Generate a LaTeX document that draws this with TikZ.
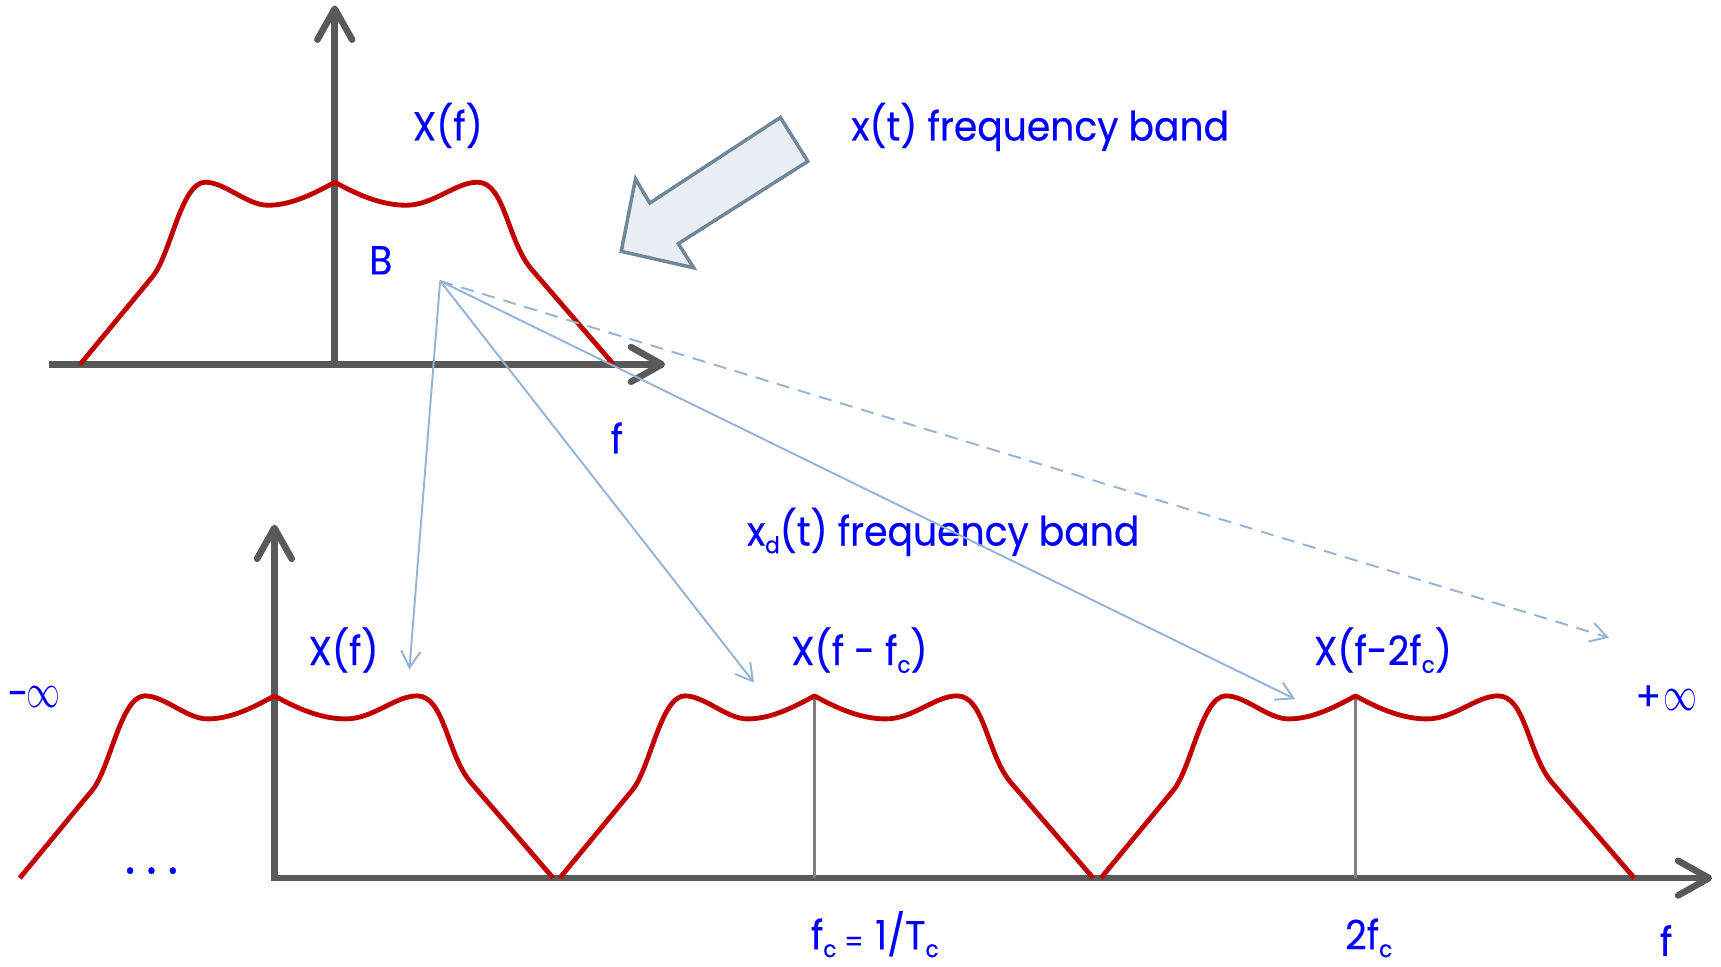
\documentclass[tikz,border=0pt]{standalone}
\usepackage{fontspec}
\setmainfont{Poppins}[FakeStretch=0.93,FakeBold=0.4]
\usetikzlibrary{arrows.meta}
\definecolor{axisgray}{HTML}{595959}
\definecolor{sigred}{HTML}{C00000}
\definecolor{lblue}{HTML}{0000FF}
\definecolor{connblue}{HTML}{95B3D7}
\definecolor{bafill}{HTML}{E9EEF5}
\definecolor{badraw}{HTML}{6F8799}
\definecolor{tickgray}{HTML}{808080}
\newcommand\lblfont{\fontsize{10.5}{12}\selectfont}
\newcommand\subsc[1]{\raisebox{-2pt}{\fontsize{6}{7}\selectfont #1}}
\newcommand\infsym{\scalebox{0.8}[1.15]{$\infty$}}
\newcommand\bigdot{{\fontsize{14}{14}\selectfont.}}
\begin{document}
\begin{tikzpicture}[x=0.01cm, y=-0.01cm,
  axis/.style={draw=axisgray, line width=1.7pt, -{Straight Barb[length=8pt,width=9pt,round]}},
  signal/.style={draw=sigred, line width=1.25pt, line join=round},
  tickline/.style={draw=tickgray, line width=0.9pt},
  conn/.style={draw=connblue, line width=0.5pt, -{Straight Barb[length=4.3pt,width=5pt]}},
  conndash/.style={conn, dash pattern=on 3.4pt off 2.3pt},
  blockarrow/.style={draw=badraw, fill=bafill, line width=0.9pt, line join=miter},
  lbl/.style={text=lblue, inner sep=0pt, font=\lblfont},
  band/.pic={\draw[signal] (-232,0) -- (-166,-80)
     .. controls (-149.5,-100) and (-140,-166) .. (-118,-166)
     .. controls (-100,-166) and (-80,-145) .. (-61,-145)
     .. controls (-40,-145) and (-20,-155) .. (0,-166)
     .. controls (20,-155) and (42,-145) .. (65,-145)
     .. controls (90,-145) and (110,-166) .. (130,-166)
     .. controls (155,-166) and (157,-113) .. (179,-87)
     -- (254,0);}
]
\useasboundingbox (0,0) rectangle (1568,881);

% ---- top axes
\coordinate (tO) at (305,332);
\coordinate (tXl) at (45,332);
\coordinate (tXr) at (606,332);
\coordinate (tYb) at (305,334);
\coordinate (tYt) at (305,5);
\draw[axis] (tXl) -- (tXr);
\draw[axis] (tYb) -- (tYt);

% ---- bottom axes
\coordinate (bO) at (247,800);
\coordinate (bXr) at (1560,800);
\coordinate (bYb) at (250,803);
\coordinate (bYt) at (250,478);
\draw[axis] (bO) -- (bXr);
\draw[axis] (bYb) -- (bYt);

% ---- ticks
\coordinate (fcB) at (742,800);
\coordinate (fcT) at (742,636);
\coordinate (fcc2B) at (1235,800);
\coordinate (fcc2T) at (1235,636);
\draw[tickline] (fcB) -- (fcT);
\draw[tickline] (fcc2B) -- (fcc2T);

% ---- spectra
\pic at (305,332) {band};
\pic at (250,800) {band};
\pic at (742,800) {band};
\pic at (1235,800) {band};

% ---- block arrow
\draw[blockarrow] (711,107) -- (736,147) -- (618,222) -- (632,244) -- (566,229) -- (579,163) -- (592,185) -- cycle;

% ---- labels
\node[lbl, anchor=base] (XfTop) at (408,128) {X(f)};
\node[lbl, anchor=base west] (xband) at (775,128) {x(t) frequency band};
\node[lbl, anchor=base] (B) at (347,250) {B};
\node[lbl, anchor=base] (fTop) at (562,413) {f};
\node[lbl, anchor=base west] (xdband) at (680,497) {x\subsc{d}(t) frequency band};
\node[lbl, anchor=base] (Xf0) at (313,606) {X(f)};
\node[lbl, anchor=base] (Xf1) at (783,606) {X(f - f\subsc{c})};
\node[lbl, anchor=base] (Xf2) at (1260,606) {X(f-2f\subsc{c})};
\node[lbl, anchor=center] (minf) at (31,635) {-\kern-0.5pt\infsym};
\node[lbl, anchor=center] (pinf) at (1518,636) {+\kern0.5pt\infsym};
\node[lbl, anchor=base] (dots) at (138,796) {\bigdot\kern2.8pt\bigdot\kern2.8pt\bigdot};
\node[lbl, anchor=base] (fc) at (797,865) {f\subsc{c}\kern2pt\raisebox{-0.6pt}{\fontsize{7.5}{8}\selectfont=}\kern3pt1/T\subsc{c}};
\node[lbl, anchor=base] (twofc) at (1247,865) {2f\subsc{c}};
\node[lbl, anchor=base] (fBot) at (1518,871) {f};

% ---- connectors
\coordinate (src) at (401,256);
\coordinate (e1) at (373,610);
\coordinate (e2) at (687,622);
\coordinate (e3) at (1180,637);
\coordinate (e4) at (1466,581);
\draw[conn] (src) -- (e1);
\draw[conn] (src) -- (e2);
\draw[conn] (src) -- (e3);
\draw[conndash] (src) -- (e4);
\end{tikzpicture}
\end{document}
